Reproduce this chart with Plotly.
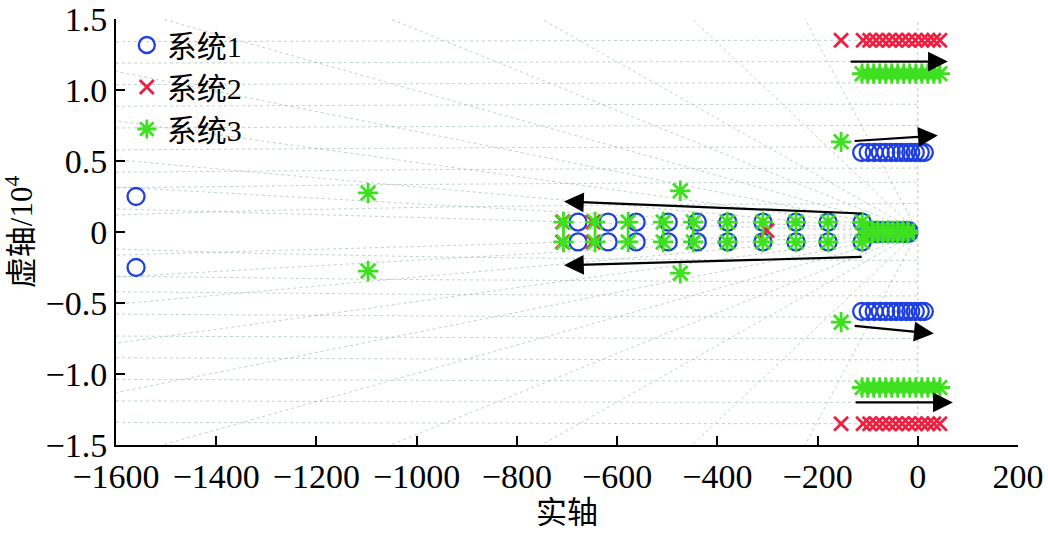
import numpy as np
import plotly.graph_objects as go

# ---------------- data (real part, imaginary part / 1e4) ----------------
sys1_x = [-1560, -1560,
          -678, -618, -562, -498, -440, -379, -309, -243, -179, -111,
          -678, -618, -562, -498, -440, -379, -309, -243, -179, -111,
          -98, -86, -74, -62, -50, -38, -26, -18,
          -98, -86, -74, -62, -50, -38, -26, -18,
          -112, -99, -87, -75, -64, -53, -43, -33, -23, -14, -5, 5, 13,
          -112, -99, -87, -75, -64, -53, -43, -33, -23, -14, -5, 5, 13]
sys1_y = [0.25, -0.25,
          0.07, 0.07, 0.07, 0.07, 0.07, 0.07, 0.07, 0.07, 0.07, 0.07,
          -0.07, -0.07, -0.07, -0.07, -0.07, -0.07, -0.07, -0.07, -0.07, -0.07,
          0.01, 0.01, 0.01, 0.01, 0.01, 0.01, 0.01, 0.01,
          -0.01, -0.01, -0.01, -0.01, -0.01, -0.01, -0.01, -0.01,
          0.56, 0.56, 0.56, 0.56, 0.56, 0.56, 0.56, 0.56, 0.56, 0.56, 0.56, 0.56, 0.56,
          -0.56, -0.56, -0.56, -0.56, -0.56, -0.56, -0.56, -0.56, -0.56, -0.56, -0.56, -0.56, -0.56]

sys2_x = [-153, -109, -96, -83, -70, -57, -44, -31, -18, -5, 8, 20, 32, 44,
          -153, -109, -96, -83, -70, -57, -44, -31, -18, -5, 8, 20, 32, 44,
          -709, -648, -709, -648, -301]
sys2_y = [1.35, 1.35, 1.35, 1.35, 1.35, 1.35, 1.35, 1.35, 1.35, 1.35, 1.35, 1.35, 1.35, 1.35,
          -1.35, -1.35, -1.35, -1.35, -1.35, -1.35, -1.35, -1.35, -1.35, -1.35, -1.35, -1.35, -1.35, -1.35,
          0.07, 0.07, -0.07, -0.07, 0.01]

sys3_x = [-1097, -1097, -474, -474, -153, -153,
          -111, -100, -88, -76, -64, -52, -40, -28, -16, -4, 8, 20, 32, 44,
          -111, -100, -88, -76, -64, -52, -40, -28, -16, -4, 8, 20, 32, 44,
          -707, -644, -578, -508, -448, -380, -309, -243, -179, -111,
          -707, -644, -578, -508, -448, -380, -309, -243, -179, -111,
          -100, -90, -80, -70, -60, -50, -40, -30, -20,
          -100, -90, -80, -70, -60, -50, -40, -30, -20]
sys3_y = [0.275, -0.275, 0.29, -0.29, 0.635, -0.635,
          1.115, 1.115, 1.115, 1.115, 1.115, 1.115, 1.115, 1.115, 1.115, 1.115, 1.115, 1.115, 1.115, 1.115,
          -1.095, -1.095, -1.095, -1.095, -1.095, -1.095, -1.095, -1.095, -1.095, -1.095, -1.095, -1.095, -1.095, -1.095,
          0.07, 0.07, 0.07, 0.07, 0.07, 0.07, 0.07, 0.07, 0.07, 0.07,
          -0.07, -0.07, -0.07, -0.07, -0.07, -0.07, -0.07, -0.07, -0.07, -0.07,
          0.01, 0.01, 0.01, 0.01, 0.01, 0.01, 0.01, 0.01, 0.01,
          -0.01, -0.01, -0.01, -0.01, -0.01, -0.01, -0.01, -0.01, -0.01]

series_names = ["系统1", "系统2", "系统3"]

# arrows: (tail_x, tail_y, tip_x, tip_y)
arrows = [(-137, 1.20, 60, 1.20),
          (-129, 0.64, 40, 0.68),
          (-129, -0.66, 32, -0.715),
          (-127, -1.20, 70, -1.20),
          (-109, 0.13, -706, 0.215),
          (-109, -0.175, -706, -0.235)]

x_ticks = [-1600, -1400, -1200, -1000, -800, -600, -400, -200, 0, 200]
x_ticktext = ["−1600", "−1400", "−1200", "−1000", "−800", "−600", "−400", "−200", "0", "200"]
y_ticks = [-1.5, -1.0, -0.5, 0, 0.5, 1.0, 1.5]
y_ticktext = ["−1.5", "−1.0", "−0.5", "0", "0.5", "1.0", "1.5"]

# s-plane grid parameters (damping ratios and natural frequencies)
grid_zeta = [0.015, 0.03, 0.05, 0.07, 0.1, 0.14, 0.2, 0.3, 0.45, 0.7]
grid_wn = [2000, 3500, 4500, 6000, 7500, 9000, 10500, 12000, 13500]

FONT = "Liberation Serif, Noto Sans CJK SC, serif"
grid_color = "rgba(120,150,150,0.45)"

fig = go.Figure()

# ---------------- s-plane grid ----------------
XMIN, XMAX, YMAX = -1600, 200, 1.5
for z in grid_zeta:
    s = np.sqrt(1 - z * z) / z / 1e4
    xe = max(XMIN, -YMAX / s)
    for sign in (1, -1):
        fig.add_trace(go.Scatter(x=[0, xe], y=[0, sign * (-xe) * s], mode="lines",
                                 line=dict(color=grid_color, width=1, dash="dot"),
                                 showlegend=False, hoverinfo="skip"))
for wn in grid_wn:
    xs = np.linspace(XMIN, 0, 40)
    ys = np.sqrt(wn ** 2 - xs ** 2) / 1e4
    for sign in (1, -1):
        fig.add_trace(go.Scatter(x=xs, y=sign * ys, mode="lines",
                                 line=dict(color=grid_color, width=1, dash="dot"),
                                 showlegend=False, hoverinfo="skip"))
fig.add_trace(go.Scatter(x=[0, 0], y=[-YMAX, YMAX], mode="lines",
                         line=dict(color=grid_color, width=1.2, dash="dot"),
                         showlegend=False, hoverinfo="skip"))

# ---------------- poles ----------------
fig.add_trace(go.Scatter(x=sys1_x, y=sys1_y, mode="markers", name=series_names[0],
                         marker=dict(symbol="circle-open", size=17, color="#1f3fe0",
                                     line=dict(width=2.3, color="#1f3fe0"))))
fig.add_trace(go.Scatter(x=sys2_x, y=sys2_y, mode="markers", name=series_names[1],
                         marker=dict(symbol="x-thin-open", size=14, color="#ec2040",
                                     line=dict(width=2.8, color="#ec2040"))))
fig.add_trace(go.Scatter(x=sys3_x, y=sys3_y, mode="markers", name=series_names[2],
                         marker=dict(symbol="asterisk-open", size=17, color="#3ee020",
                                     line=dict(width=2.8, color="#3ee020"))))

for tx, ty, hx, hy in arrows:
    fig.add_annotation(x=hx, y=hy, ax=tx, ay=ty, xref="x", yref="y", axref="x", ayref="y",
                       text="", showarrow=True, arrowhead=2, arrowsize=1.8,
                       arrowwidth=2.2, arrowcolor="black", standoff=0, startstandoff=0)

fig.update_layout(
    width=1048, height=540,
    margin=dict(l=116, r=30, t=19, b=95, autoexpand=False),
    plot_bgcolor="white", paper_bgcolor="white",
    font=dict(family=FONT, size=34, color="black"),
    showlegend=True,
    legend=dict(x=0.012, y=1.0, xanchor="left", yanchor="top",
                bgcolor="rgba(0,0,0,0)", font=dict(size=30, family=FONT),
                tracegroupgap=0),
    xaxis=dict(range=[-1600, 200], tickvals=x_ticks, ticktext=x_ticktext,
               showgrid=False, zeroline=False, showline=True, linecolor="black",
               linewidth=2, ticks="inside", ticklen=9, tickwidth=2, tickcolor="black",
               mirror=False, automargin=False, ticklabeloverflow="allow",
               title=dict(text="实轴", font=dict(size=31, family=FONT), standoff=6)),
    yaxis=dict(range=[-1.5, 1.5], tickvals=y_ticks, ticktext=y_ticktext,
               showgrid=False, zeroline=False, showline=True, linecolor="black",
               linewidth=2, ticks="inside", ticklen=9, tickwidth=2, tickcolor="black",
               mirror=False, automargin=False, ticklabeloverflow="allow",
               title=dict(text="虚轴/10<sup>4</sup>", font=dict(size=31, family=FONT), standoff=4)),
)

fig.write_html("out.html", config={"displayModeBar": False},
               post_script="document.body.style.margin='0';")
